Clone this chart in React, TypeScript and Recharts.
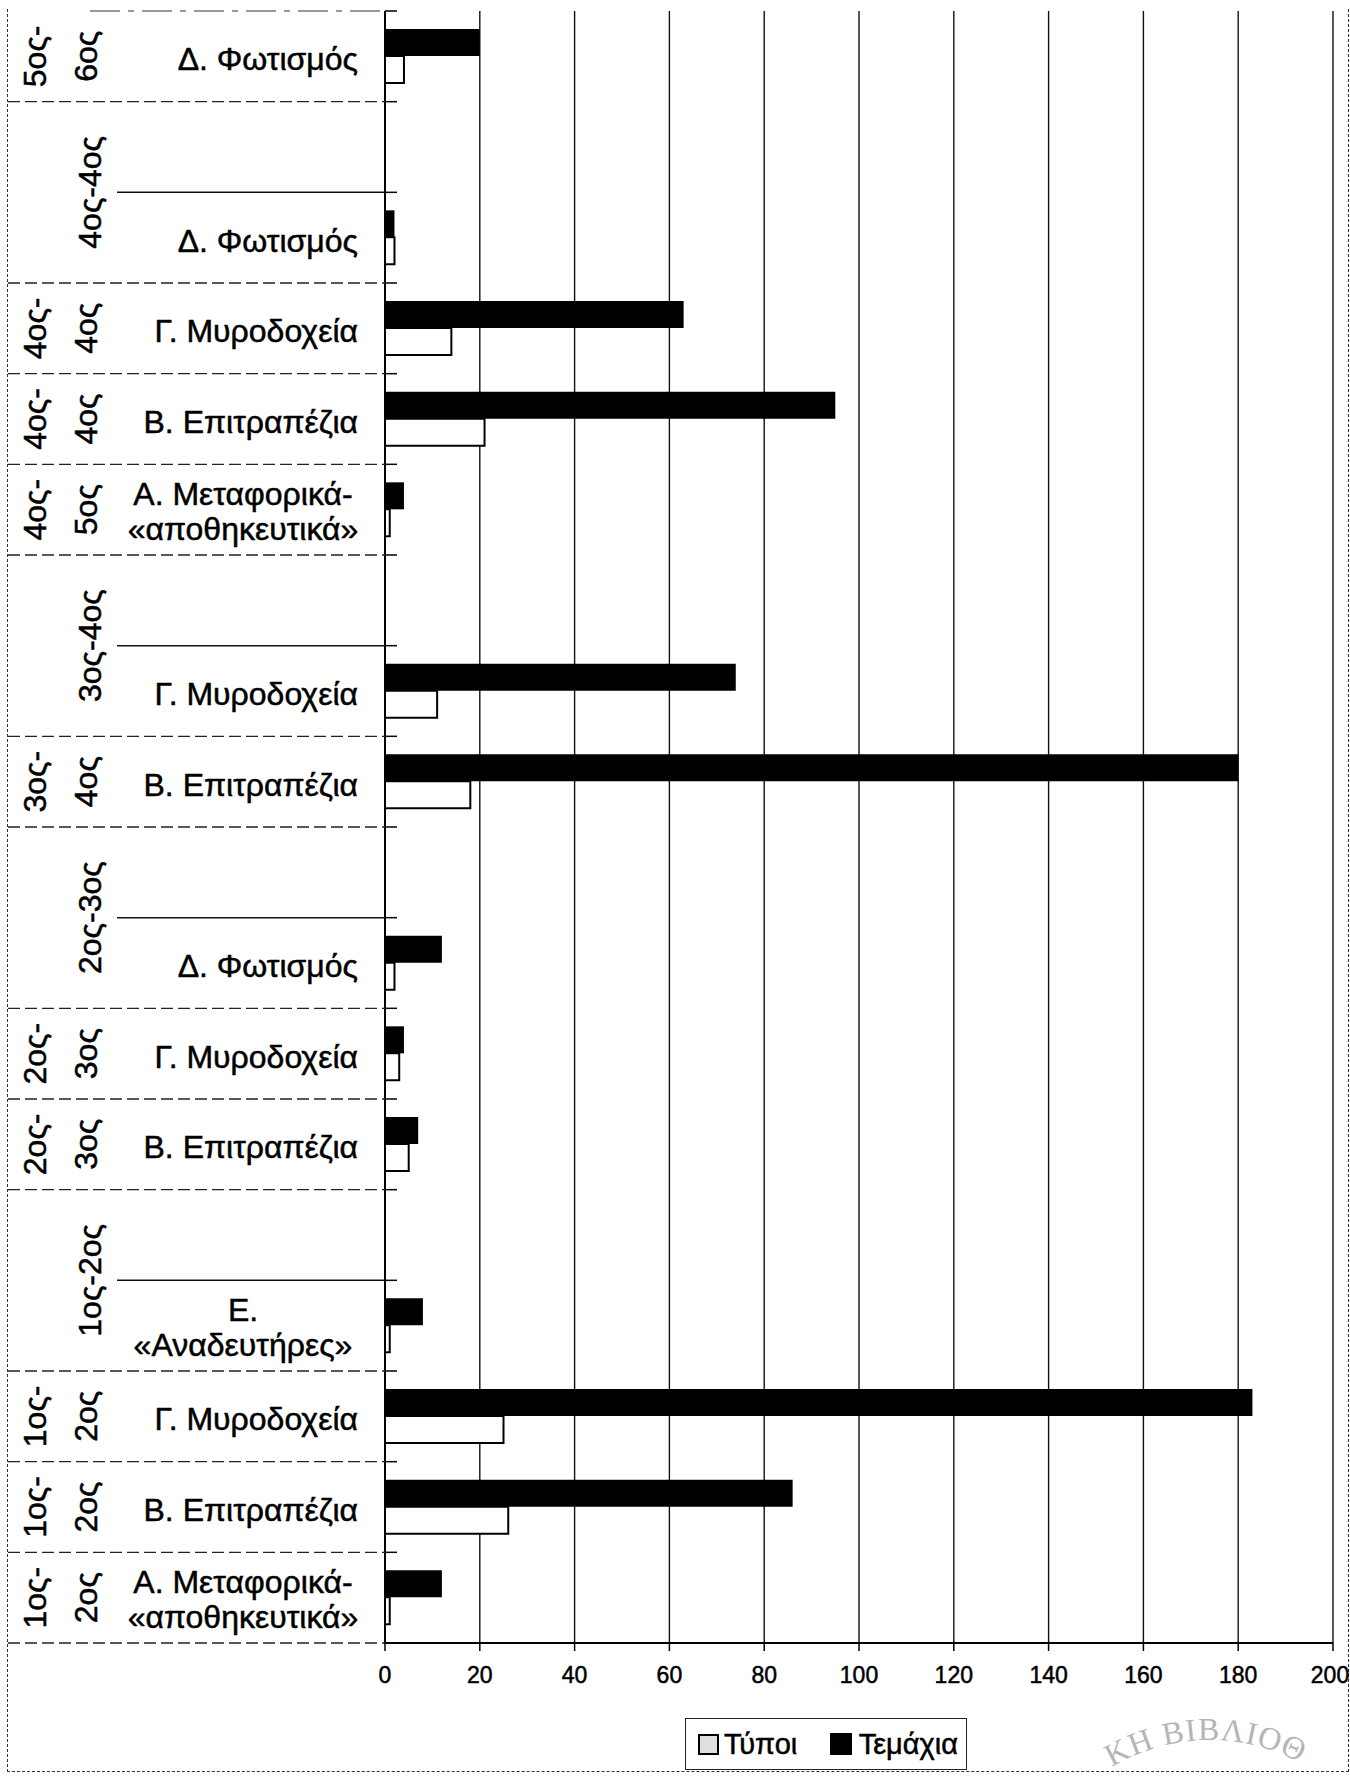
import React from 'react';
import { BarChart, Bar, XAxis, YAxis, CartesianGrid, Legend } from 'recharts';

// ---------- data (top to bottom as in the figure) ----------
const categoryLabels = [
  'Δ. Φωτισμός',
  '',
  'Δ. Φωτισμός',
  'Γ. Μυροδοχεία',
  'Β. Επιτραπέζια',
  'Α. Μεταφορικά-\n«αποθηκευτικά»',
  '',
  'Γ. Μυροδοχεία',
  'Β. Επιτραπέζια',
  '',
  'Δ. Φωτισμός',
  'Γ. Μυροδοχεία',
  'Β. Επιτραπέζια',
  '',
  'Ε.\n«Αναδευτήρες»',
  'Γ. Μυροδοχεία',
  'Β. Επιτραπέζια',
  'Α. Μεταφορικά-\n«αποθηκευτικά»',
];

const periodLabels = [
  '5ος-\n6ος',
  '4ος-4ος',
  '4ος-\n4ος',
  '4ος-\n4ος',
  '4ος-\n5ος',
  '3ος-4ος',
  '3ος-\n4ος',
  '2ος-3ος',
  '2ος-\n3ος',
  '2ος-\n3ος',
  '1ος-2ος',
  '1ος-\n2ος',
  '1ος-\n2ος',
  '1ος-\n2ος',
];
const periodRowSpans = [1, 2, 1, 1, 1, 2, 1, 2, 1, 1, 2, 1, 1, 1];

const temachia = [20, null, 2, 63, 95, 4, null, 74, 180, null, 12, 4, 7, null, 8, 183, 86, 12];
const typoi = [4, null, 2, 14, 21, 1, null, 11, 18, null, 2, 3, 5, null, 1, 25, 26, 1];

const xTicks = [0, 20, 40, 60, 80, 100, 120, 140, 160, 180, 200];
const seriesTypoi = 'Τύποι';
const seriesTemachia = 'Τεμάχια';
const stampText = 'ΚΗ ΒΙΒΛΙΟΘ';

const data = categoryLabels.map((_, i) => ({
  key: String(i),
  temachia: temachia[i],
  typoi: typoi[i],
}));

// ---------- layout ----------
const FONT = '"Liberation Sans", Arial, sans-serif';
const W = 1350;
const H = 1779;
const MARGIN = { top: 11, right: 17, bottom: 76, left: 0 };
const XAXIS_H = 60;
const YAXIS_W = 385;
const ROW_H = (H - MARGIN.top - MARGIN.bottom - XAXIS_H) / categoryLabels.length;
const LABEL_FS = 32;
const TXT_STROKE = 0.5;

// period group lookup
const groupOfRow: number[] = [];
const groupStartRow: number[] = [];
{
  let r = 0;
  periodRowSpans.forEach((span, g) => {
    groupStartRow.push(r);
    for (let k = 0; k < span; k++) groupOfRow.push(g);
    r += span;
  });
}

const ValueTick = (props: any) => {
  const { x, y, payload } = props;
  const isLast = payload.value === xTicks[xTicks.length - 1];
  return (
    <text
      x={isLast ? x - 3 : x}
      y={y}
      dy="0.71em"
      textAnchor="middle"
      fontSize={23}
      fontFamily={FONT}
      fill="#000"
      stroke="#000"
      strokeWidth={0.5}
    >
      {payload.value}
    </text>
  );
};

const CategoryTick = (props: any) => {
  const { y, payload } = props;
  const i = Number(payload.value);
  const g = groupOfRow[i];
  const isGroupStart = groupStartRow[g] === i;
  const isGroupEnd = groupStartRow[g] + periodRowSpans[g] - 1 === i;
  const yTop = y - ROW_H / 2;
  const yBot = y + ROW_H / 2;
  const lines = categoryLabels[i] ? categoryLabels[i].split('\n') : [];
  const els: any[] = [];
  const txt = {
    fontSize: LABEL_FS,
    fontFamily: FONT,
    fill: '#000',
    stroke: '#000',
    strokeWidth: TXT_STROKE,
  };

  if (i === 0) {
    els.push(
      <line key="top" x1={90} x2={YAXIS_W} y1={yTop} y2={yTop} stroke="#333" strokeWidth={1.2} strokeDasharray="30 8 6 8" />
    );
    els.push(<line key="ttop" x1={YAXIS_W} x2={YAXIS_W + 12} y1={yTop} y2={yTop} stroke="#000" strokeWidth={1.5} />);
  }
  if (isGroupEnd) {
    els.push(
      <line key="bot" x1={8} x2={YAXIS_W} y1={yBot} y2={yBot} stroke="#222" strokeWidth={1.3} strokeDasharray="12 5" />
    );
  } else {
    els.push(<line key="bot" x1={117} x2={YAXIS_W} y1={yBot} y2={yBot} stroke="#111" strokeWidth={1.5} />);
  }
  els.push(<line key="tbot" x1={YAXIS_W} x2={YAXIS_W + 12} y1={yBot} y2={yBot} stroke="#000" strokeWidth={1.5} />);

  // category label
  if (lines.length === 1) {
    els.push(
      <text key="c0" x={358} y={y + 3} textAnchor="end" dominantBaseline="central" {...txt}>
        {lines[0]}
      </text>
    );
  } else if (lines.length > 1) {
    lines.forEach((ln, k) => {
      els.push(
        <text
          key={'c' + k}
          x={243}
          y={y + (k - (lines.length - 1) / 2) * 35 + 2}
          textAnchor="middle"
          dominantBaseline="central"
          {...txt}
        >
          {ln}
        </text>
      );
    });
  }

  // period label (rotated)
  if (isGroupStart) {
    const span = periodRowSpans[g];
    const yc = y + ((span - 1) * ROW_H) / 2;
    const pl = periodLabels[g].split('\n');
    const xs = pl.length === 1 ? [90] : [35, 86];
    pl.forEach((t, k) => {
      els.push(
        <text
          key={'p' + k}
          x={xs[k]}
          y={yc}
          transform={`rotate(-90, ${xs[k]}, ${yc})`}
          textAnchor="middle"
          dominantBaseline="central"
          {...txt}
        >
          {t}
        </text>
      );
    });
  }
  return <g>{els}</g>;
};

const renderLegend = () => (
  <div
    style={{
      boxSizing: 'border-box',
      width: 282,
      height: 52,
      border: '1.5px solid #222',
      background: '#fff',
      display: 'flex',
      alignItems: 'center',
      justifyContent: 'space-between',
      paddingLeft: 12,
      paddingRight: 8,
      fontFamily: FONT,
      fontSize: 29,
      color: '#000',
      lineHeight: 1,
      WebkitTextStroke: '0.5px #000',
    }}
  >
    <span style={{ display: 'flex', alignItems: 'center' }}>
      <span
        style={{
          display: 'inline-block',
          width: 21,
          height: 21,
          boxSizing: 'border-box',
          border: '2.5px solid #000',
          background: '#e0e0e0',
          marginRight: 5,
        }}
      />
      <span>{seriesTypoi}</span>
    </span>
    <span style={{ display: 'flex', alignItems: 'center' }}>
      <span style={{ display: 'inline-block', width: 22, height: 22, background: '#000', marginRight: 7 }} />
      <span>{seriesTemachia}</span>
    </span>
  </div>
);

export default function App() {
  return (
    <div style={{ position: 'absolute', left: 0, top: 0, width: W, height: H, background: '#fff' }}>
      <div
        style={{
          position: 'absolute',
          left: 7,
          top: 9,
          width: 1342,
          height: 1763,
          boxSizing: 'border-box',
          border: '1.5px dashed #333',
          borderTop: 'none',
        }}
      />
      <div style={{ position: 'absolute', left: 0, top: 0 }}>
        <BarChart
          width={W}
          height={H}
          data={data}
          layout="vertical"
          margin={MARGIN}
          barSize={27}
          barGap={0}
        >
          <CartesianGrid horizontal={false} stroke="#111" strokeWidth={1.4} />
          <XAxis
            type="number"
            domain={[0, 200]}
            ticks={xTicks}
            interval={0}
            height={XAXIS_H}
            tickSize={8}
            tickMargin={16}
            tickLine={{ stroke: '#000', strokeWidth: 1.5 }}
            axisLine={{ stroke: '#000', strokeWidth: 2 }}
            tick={(p: any) => <ValueTick {...p} />}
          />
          <XAxis
            xAxisId="top"
            orientation="top"
            type="number"
            domain={[0, 200]}
            ticks={xTicks}
            height={0}
            tick={false}
            tickLine={false}
            axisLine={{ stroke: '#222', strokeWidth: 1.6, strokeDasharray: '18 3' }}
          />
          <YAxis
            type="category"
            dataKey="key"
            width={YAXIS_W}
            interval={0}
            tickLine={false}
            axisLine={{ stroke: '#000', strokeWidth: 2 }}
            tick={(p: any) => <CategoryTick {...p} />}
          />
          <Legend
            layout="vertical"
            align="center"
            verticalAlign="middle"
            content={renderLegend}
            wrapperStyle={{ left: 685, top: 1718, width: 282, height: 52 }}
          />
          <Bar dataKey="temachia" name={seriesTemachia} fill="#000" isAnimationActive={false} />
          <Bar dataKey="typoi" name={seriesTypoi} fill="#fff" stroke="#000" strokeWidth={2} isAnimationActive={false} />
        </BarChart>
      </div>
      <svg
        width={W}
        height={H}
        style={{ position: 'absolute', left: 0, top: 0, pointerEvents: 'none' }}
      >
        <defs>
          <path id="stampArc" d="M 1020 1930 A 190 190 0 0 1 1400 1930" />
        </defs>
        <text fill="#b5b5b5" fontFamily='"Liberation Serif", serif' fontSize={32} letterSpacing={1}>
          <textPath href="#stampArc" startOffset={195}>
            {stampText}
          </textPath>
        </text>
      </svg>
    </div>
  );
}
